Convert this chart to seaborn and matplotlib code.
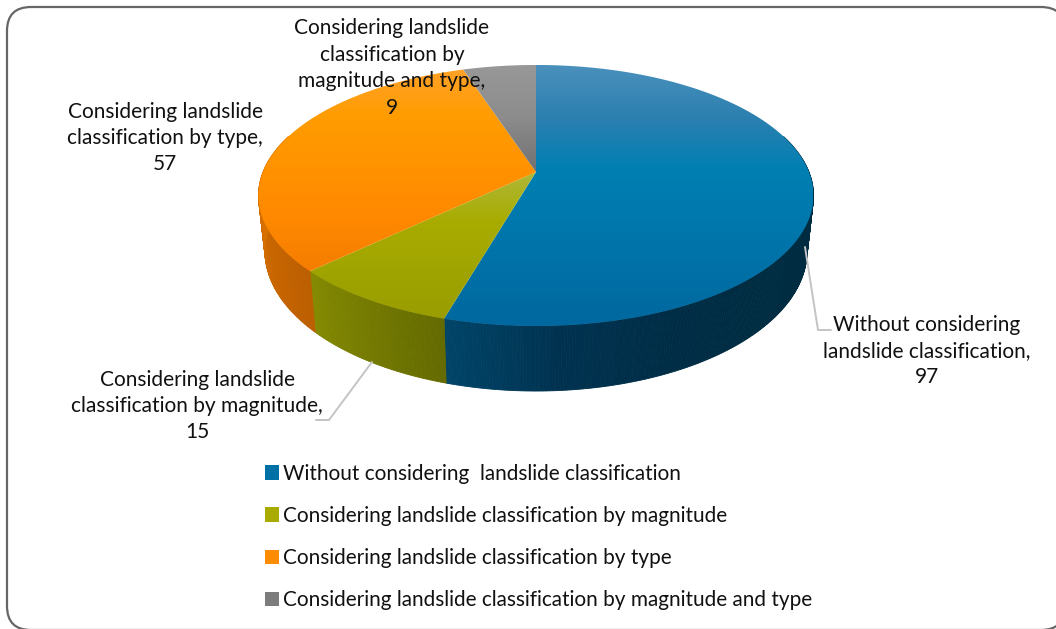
import numpy as np
import matplotlib
matplotlib.use('Agg')  # no display here
import matplotlib.pyplot as plt
from matplotlib.patches import FancyBboxPatch, Patch, Polygon
import seaborn as sns

sns.set_theme(style="white")
plt.rcParams['font.family'] = ['Lato', 'DejaVu Sans']

categories = [
    "Without considering  landslide classification",
    "Considering landslide classification by magnitude",
    "Considering landslide classification by type",
    "Considering landslide classification by magnitude and type",
]
slice_labels = [
    "Without considering\nlandslide classification,",
    "Considering landslide\nclassification by magnitude,",
    "Considering landslide\nclassification by type,",
    "Considering landslide\nclassification by\nmagnitude and type,",
]
values = [97, 15, 57, 9]

# evenly spaced stops from top to bottom of the ellipse
top_stops = [
    ["#4a90bc", "#2c80b0", "#007fb2", "#0078ad", "#0070a6", "#00689e"],
    ["#c4c860", "#bcc040", "#b0b83c", "#a8ac00", "#a0a400", "#989c00"],
    ["#ffa22a", "#ff9c00", "#ff9200", "#ff8800", "#f47c00", "#ee7800"],
    ["#989898", "#8c8c8c", "#727272", "#6c6c6c", "#6c6c6c", "#6c6c6c"],
]
# side colours, following the rim clockwise
side_stops = [
    ["#002c42"] * 8 + ["#002d46", "#003250", "#004468"],
    ["#646a00", "#6c7200", "#747a00", "#7c8200", "#848a00"],
    ["#bc5e00", "#d87000", "#e07800", "#e07800"],
    ["#555555", "#555555"],
]
legend_colors = ["#0070a6", "#a8ac00", "#ff8c00", "#7c7c7c"]
label_color = "#111111"
leader_color = "#c4c4c4"

W, H = 1056, 629
fig = plt.figure(figsize=(10.56, 6.29), dpi=100)
ax = fig.add_axes([0, 0, 1, 1])


# the disc is seen in perspective, so the pie centre is above the ellipse centre
def project(u, v):
    w = 1 + 0.18 * np.asarray(v)
    return 536 + 273 * np.asarray(u) / w, 172 - 126.3 * np.asarray(v) / w


# same rim point on the lower face of the disc
def lower(x, y):
    return 535.5 + 271 / 277.5 * (x - 535.5), 251 + 140 / 130.5 * (y - 195.5)


wedges, _ = ax.pie(values, colors=legend_colors, startangle=90, counterclock=False,
                   radius=1, center=(0, 0), frame=False, wedgeprops=dict(linewidth=0))

# top of each slice with a vertical gradient
for wedge, stops in zip(wedges, top_stops):
    arc = np.radians(np.linspace(wedge.theta1, wedge.theta2, 200))
    wedge.set_visible(False)
    px, py = project(np.r_[0, np.cos(arc)], np.r_[0, np.sin(arc)])
    face = Polygon(np.column_stack([px, py]), closed=True, fc='none', ec='none', zorder=3)
    ax.add_patch(face)
    ramp = np.array(sns.blend_palette(stops, n_colors=256))[:, None, :]
    im = ax.imshow(ramp, extent=(258, 813, 326, 65), aspect='auto', zorder=4)
    im.set_clip_path(face)

# rim of the disc
shares = np.cumsum([0] + values) / sum(values) * 360
for i in range(len(values)):
    a0, a1 = 90 - shares[i], 90 - shares[i + 1]
    steps = np.linspace(a0, a1, max(int(a0 - a1) * 2, 2))
    ramp = sns.blend_palette(side_stops[i], n_colors=len(steps) - 1)
    for j in range(len(steps) - 1):
        t0, t1 = np.radians(steps[j]), np.radians(steps[j + 1])
        if np.sin((t0 + t1) / 2) > 0.3:
            continue
        x0, y0 = project(np.cos(t0), np.sin(t0))
        x1, y1 = project(np.cos(t1), np.sin(t1))
        x2, y2 = lower(x1, y1)
        x3, y3 = lower(x0, y0)
        ax.fill([x0, x1, x2, x3], [y0, y1, y2, y3], color=ramp[j], lw=0.6, zorder=2)

ax.set_aspect('auto')
ax.set_xlim(0, W)
ax.set_ylim(H, 0)
ax.axis('off')

# rounded border, runs off the right and bottom of the picture
# white face because agg bends unfilled curves clipped at the canvas edge
ax.add_patch(FancyBboxPatch((31, 31), 1010, 575, boxstyle="round,pad=24,rounding_size=24",
                            fc='white', ec="#666666", lw=1.6, zorder=1))

# leader lines
ax.plot([805, 818, 831], [247, 330, 330], color=leader_color, lw=1.4, zorder=5)
ax.plot([372, 329, 316], [362, 420, 420], color=leader_color, lw=1.4, zorder=5)

# slice labels
label_pos = [(927, 351), (197, 406), (165, 138), (392, 68)]
for text, val, (lx, ly) in zip(slice_labels, values, label_pos):
    ax.text(lx, ly, f"{text}\n{val}", ha='center', va='center', fontsize=15,
            color=label_color, linespacing=1.4, zorder=6)

handles = [Patch(facecolor=c, edgecolor='none') for c in legend_colors]
leg = ax.legend(handles, categories, loc='upper left', bbox_to_anchor=(248 / W, 1 - 447 / H),
                bbox_transform=fig.transFigure, frameon=False, fontsize=14.95, labelspacing=1.07,
                handlelength=0.7, handleheight=0.7, handletextpad=0.2, borderpad=0.3)
for t in leg.get_texts():
    t.set_color(label_color)

fig.savefig('out.png', dpi=100, facecolor='white')
